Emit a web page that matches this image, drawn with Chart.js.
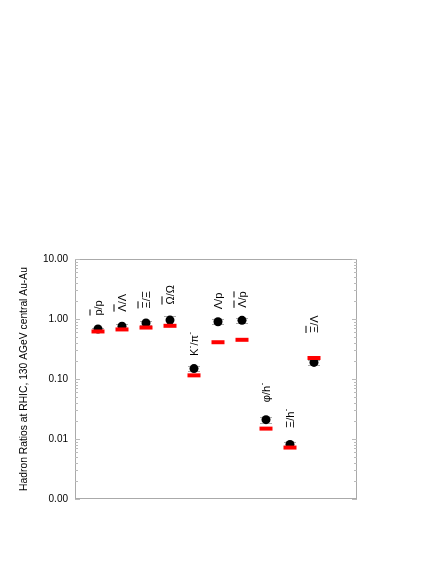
<!DOCTYPE html>
<html>
<head>
<meta charset="utf-8">
<script src="https://cdn.jsdelivr.net/npm/chart.js@4.4.0/dist/chart.umd.min.js"></script>
<style>
  body { margin: 0; background: #fff; }
  #wrap { width: 436px; height: 564px; }
</style>
</head>
<body>
<div id="wrap"><canvas id="ratioChart" width="436" height="564"></canvas></div>
<script>
// [x] = overline, {x} = superscript
const ratioLabels = ['[p]/p', '[Λ]/Λ', '[Ξ]/Ξ', '[Ω]/Ω', 'K{-}/π{-}', 'Λ/p', '[Λ]/[p]', 'φ/h{-}', 'Ξ/h{-}', '[Ξ]/Λ'];
const measured    = [0.68, 0.76, 0.86, 0.96, 0.149, 0.90, 0.95, 0.021, 0.0081, 0.189];
const measuredErr = [0.04, 0.05, 0.06, 0.15, 0.015, 0.09, 0.09, 0.0025, 0.0009, 0.02];
const model       = [0.62, 0.67, 0.72, 0.77, 0.115, 0.41, 0.45, 0.0149, 0.0072, 0.224];
const yTicks      = [0.001, 0.01, 0.1, 1, 10];

const labelGap = [9, 10, 10, 11, 8, 8, 8, 13, 12, 23];
const FONT = 'Liberation Sans, Arial, sans-serif';

const frameAndTicks = {
  id: 'frameAndTicks',
  afterDraw(chart){
    const {ctx, chartArea:a, scales:{y}} = chart;
    ctx.save();
    ctx.strokeStyle = '#aaa'; ctx.lineWidth = 1;
    ctx.beginPath();
    ctx.moveTo(a.left, a.top + 0.5); ctx.lineTo(a.right, a.top + 0.5);
    ctx.moveTo(a.right - 0.5, a.top); ctx.lineTo(a.right - 0.5, a.bottom);
    ctx.moveTo(a.left, a.bottom - 0.5); ctx.lineTo(a.right, a.bottom - 0.5);
    ctx.stroke();
    ctx.strokeStyle = '#bbb';
    ctx.beginPath();
    for (let d = 0; d < yTicks.length; d++){
      const base = yTicks[d];
      for (let k = 1; k <= 9; k++){
        const v = base * k;
        if (v > 10.0001) break;
        const py = Math.round(y.getPixelForValue(v)) + 0.5;
        const len = k === 1 ? 5 : 3;
        ctx.moveTo(a.left, py); ctx.lineTo(a.left + len, py);
        ctx.moveTo(a.right, py); ctx.lineTo(a.right - len, py);
      }
    }
    ctx.stroke();
    ctx.restore();
  }
};

const errorBars = {
  id: 'errorBars',
  beforeDatasetsDraw(chart){
    const {ctx, scales:{x, y}} = chart;
    ctx.save();
    ctx.strokeStyle = '#aaa'; ctx.lineWidth = 1;
    ctx.beginPath();
    measured.forEach((m, i) => {
      const px = x.getPixelForValue(i + 1);
      const hi = Math.round(y.getPixelForValue(m + measuredErr[i])) + 0.5;
      const lo = Math.round(y.getPixelForValue(m - measuredErr[i])) + 0.5;
      ctx.moveTo(px, hi); ctx.lineTo(px, lo);
      ctx.moveTo(px - 6, hi); ctx.lineTo(px + 6, hi);
      ctx.moveTo(px - 6, lo); ctx.lineTo(px + 6, lo);
    });
    ctx.stroke();
    ctx.restore();
  }
};

function parseLabel(s){
  const runs = [];
  let i = 0;
  while (i < s.length){
    const c = s[i];
    if (c === '['){ const j = s.indexOf(']', i); runs.push({t:s.slice(i+1,j), bar:true}); i = j + 1; }
    else if (c === '{'){ const j = s.indexOf('}', i); runs.push({t:s.slice(i+1,j), sup:true}); i = j + 1; }
    else { runs.push({t:c}); i++; }
  }
  return runs;
}

const ratioText = {
  id: 'ratioText',
  afterDatasetsDraw(chart){
    const {ctx, scales:{x, y}} = chart;
    ctx.save();
    ctx.fillStyle = '#000';
    ratioLabels.forEach((lab, i) => {
      const px = x.getPixelForValue(i + 1);
      const top = Math.min(
        y.getPixelForValue(measured[i]) - 4.5,
        y.getPixelForValue(measured[i] + measuredErr[i]),
        y.getPixelForValue(model[i]) - 2);
      ctx.save();
      ctx.translate(px + 3.5, top - labelGap[i]);
      ctx.rotate(-Math.PI / 2);
      ctx.textBaseline = 'alphabetic';
      let cx = 0;
      parseLabel(lab).forEach(r => {
        if (r.sup){
          ctx.font = '8px ' + FONT;
          ctx.fillText(r.t, cx + 0.5, -6);
          cx += ctx.measureText(r.t).width + 0.5;
        } else {
          ctx.font = '11px ' + FONT;
          const w = ctx.measureText(r.t).width;
          ctx.fillText(r.t, cx, 0);
          if (r.bar) ctx.fillRect(cx, -12, w, 1);
          cx += w;
        }
      });
      ctx.restore();
    });
    ctx.restore();
  }
};

new Chart(document.getElementById('ratioChart'), {
  type: 'scatter',
  data: {
    datasets: [
      { label: 'model', data: model.map((v, i) => ({x: i + 1, y: v})),
        pointStyle: 'line', pointRadius: 6.5, pointBorderWidth: 4,
        pointBorderColor: '#ff0000', pointBackgroundColor: '#ff0000' },
      { label: 'data', data: measured.map((v, i) => ({x: i + 1, y: v})),
        pointRadius: 4.5, pointBorderWidth: 0,
        pointBackgroundColor: '#000', pointBorderColor: '#000' }
    ]
  },
  options: {
    responsive: false,
    animation: false,
    layout: { padding: { top: 259, right: 79, bottom: 65, left: 0 } },
    plugins: { legend: { display: false }, tooltip: { enabled: false } },
    scales: {
      x: { type: 'linear', display: false, min: 1 - 23/24, max: 1 + 259/24 },
      y: {
        type: 'logarithmic', min: 0.001, max: 10,
        afterBuildTicks: s => { s.ticks = yTicks.map(v => ({value: v})); },
        afterFit: s => { s.width = 75; },
        grid: { display: false, drawTicks: false },
        border: { display: true, color: '#aaa' },
        ticks: { padding: 7, color: '#000', font: { family: FONT, size: 10 },
                 callback: v => Number(v).toFixed(2) },
        title: { display: true, text: 'Hadron Ratios at RHIC, 130 AGeV central Au-Au',
                 color: '#000', font: { family: FONT, size: 10.3 }, padding: { top: 18 } }
      }
    }
  },
  plugins: [errorBars, ratioText, frameAndTicks]
});
</script>
</body>
</html>
